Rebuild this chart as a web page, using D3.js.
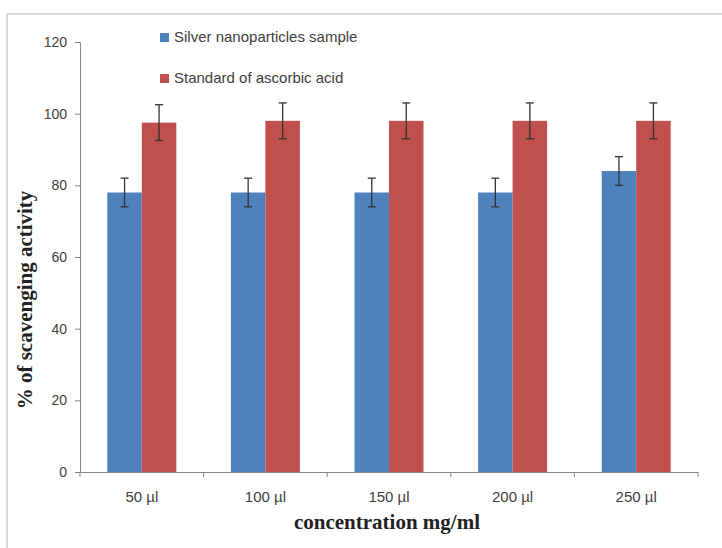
<!DOCTYPE html>
<html>
<head>
<meta charset="utf-8">
<script src="https://cdn.jsdelivr.net/npm/d3@7"></script>
<style>
  body { margin: 0; background: #fff; }
</style>
</head>
<body>
<div id="chart"></div>
<script>
var categories = ['50 µl', '100 µl', '150 µl', '200 µl', '250 µl'];
var seriesNames = ['Silver nanoparticles sample', 'Standard of ascorbic acid'];
var silver = [78, 78, 78, 78, 84];
var silverErr = [4, 4, 4, 4, 4];
var ascorbic = [97.5, 98, 98, 98, 98];
var ascorbicErr = [5, 5, 5, 5, 5];
var yTicks = [0, 20, 40, 60, 80, 100, 120];

var colors = ['#4f81bd', '#c0504d'];

var svg = d3.select('#chart').append('svg')
    .attr('width', 722)
    .attr('height', 548);

// outer chart frame
svg.append('rect')
    .attr('x', 7).attr('y', 14)
    .attr('width', 730).attr('height', 560)
    .attr('fill', 'none')
    .attr('stroke', '#d9d9d9')
    .attr('stroke-width', 2);

var pLeft = 80, pRight = 698, pTop = 42, pBottom = 472;

var x = d3.scaleBand().domain(categories).range([pLeft, pRight]);
var y = d3.scaleLinear().domain([0, 120]).range([pBottom, pTop]);

var barW = 34.5;
var font = 'Liberation Sans Narrow, Liberation Sans, sans-serif';

// y axis
var yAxis = svg.append('g')
    .attr('transform', 'translate(' + pLeft + ',0)')
    .call(d3.axisLeft(y).tickValues(yTicks).tickSize(5).tickPadding(8));
yAxis.selectAll('path, line').attr('stroke', '#868686');
yAxis.selectAll('text')
    .attr('font-family', font)
    .attr('font-size', 14)
    .attr('fill', '#404040');

// x axis
var xAxis = svg.append('g')
    .attr('transform', 'translate(0,' + pBottom + ')')
    .call(d3.axisBottom(x).tickSize(0).tickPadding(19));
xAxis.select('.domain').attr('stroke', '#868686');
xAxis.selectAll('text')
    .attr('font-family', font)
    .attr('font-size', 15)
    .attr('fill', '#404040');
// boundary ticks between categories
var bounds = categories.map(function(c) { return x(c); }).concat([pRight]);
svg.selectAll('.xtick')
    .data(bounds)
    .enter()
    .append('line')
    .attr('x1', function(d) { return d; })
    .attr('x2', function(d) { return d; })
    .attr('y1', pBottom)
    .attr('y2', pBottom + 5)
    .attr('stroke', '#868686');

var series = [
    { values: silver, err: silverErr },
    { values: ascorbic, err: ascorbicErr }
];

series.forEach(function(s, si) {
    var g = svg.append('g');
    var bx = function(i) {
        return x(categories[i]) + x.bandwidth() / 2 - barW + si * barW;
    };
    g.selectAll('rect')
        .data(s.values)
        .enter()
        .append('rect')
        .attr('x', function(d, i) { return bx(i); })
        .attr('y', function(d) { return y(d); })
        .attr('width', barW)
        .attr('height', function(d) { return pBottom - y(d); })
        .attr('fill', colors[si]);

    var eb = g.selectAll('.err')
        .data(s.values)
        .enter()
        .append('g')
        .attr('stroke', '#333')
        .attr('stroke-width', 1.3);
    eb.append('line')
        .attr('x1', function(d, i) { return bx(i) + barW / 2; })
        .attr('x2', function(d, i) { return bx(i) + barW / 2; })
        .attr('y1', function(d, i) { return y(d + s.err[i]); })
        .attr('y2', function(d, i) { return y(d - s.err[i]); });
    eb.append('line')
        .attr('x1', function(d, i) { return bx(i) + barW / 2 - 4; })
        .attr('x2', function(d, i) { return bx(i) + barW / 2 + 4; })
        .attr('y1', function(d, i) { return y(d + s.err[i]); })
        .attr('y2', function(d, i) { return y(d + s.err[i]); });
    eb.append('line')
        .attr('x1', function(d, i) { return bx(i) + barW / 2 - 4; })
        .attr('x2', function(d, i) { return bx(i) + barW / 2 + 4; })
        .attr('y1', function(d, i) { return y(d - s.err[i]); })
        .attr('y2', function(d, i) { return y(d - s.err[i]); });
});

// legend
var legend = svg.selectAll('.legend')
    .data(seriesNames)
    .enter()
    .append('g')
    .attr('transform', function(d, i) { return 'translate(160,' + (33 + i * 41) + ')'; });
legend.append('rect')
    .attr('width', 9).attr('height', 9)
    .attr('fill', function(d, i) { return colors[i]; });
legend.append('text')
    .attr('x', 14).attr('y', 9)
    .attr('font-family', font)
    .attr('font-size', 15)
    .attr('fill', '#404040')
    .text(function(d) { return d; });

// axis titles
svg.append('text')
    .attr('transform', 'translate(32,300) rotate(-90)')
    .attr('text-anchor', 'middle')
    .attr('font-family', 'Liberation Serif, serif')
    .attr('font-weight', 'bold')
    .attr('font-size', 21)
    .attr('fill', '#222')
    .text('% of scavenging activity');

svg.append('text')
    .attr('x', 387)
    .attr('y', 529)
    .attr('text-anchor', 'middle')
    .attr('font-family', 'Liberation Serif, serif')
    .attr('font-weight', 'bold')
    .attr('font-size', 21)
    .attr('fill', '#222')
    .text('concentration mg/ml');
</script>
</body>
</html>
